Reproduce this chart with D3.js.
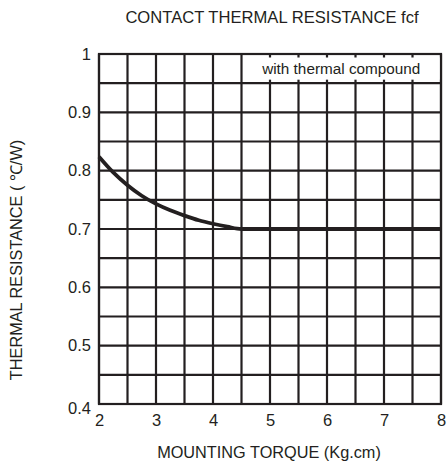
<!DOCTYPE html>
<html><head><meta charset="utf-8">
<script src="https://cdn.jsdelivr.net/npm/d3@7"></script>
<style>body{margin:0;background:#fff}text{font-family:"Liberation Sans",Arial,sans-serif;fill:#231f20}</style>
</head><body><svg id="c" width="447" height="462"></svg>
<script>
const xTicks = [2,3,4,5,6,7,8];
const yTicks = [0.4,0.5,0.6,0.7,0.8,0.9,1];
const torque = [2, 2.25, 2.5, 2.75, 3, 3.25, 3.5, 3.75, 4, 4.25, 4.5, 8];
const resistance = [0.824, 0.797, 0.775, 0.757, 0.743, 0.732, 0.723, 0.715, 0.709, 0.704, 0.7, 0.7];
const title = "CONTACT THERMAL RESISTANCE fcf";
const xTitle = "MOUNTING TORQUE (Kg.cm)";
const yTitle = "THERMAL RESISTANCE ( \u2103/W)";
const legendText = "with thermal compound";

const svg = d3.select("#c");
const ink = "#231f20";
const x = d3.scaleLinear().domain([2,8]).range([99,441]);
const y = d3.scaleLinear().domain([0.4,1]).range([404,54]);

const xg = d3.range(2,8.001,0.5), yg = d3.range(0.4,1.001,0.05);
const g = svg.append("g");
g.selectAll("line.v").data(xg).join("line").attr("x1",d=>x(d)).attr("x2",d=>x(d)).attr("y1",y(1)).attr("y2",y(0.4)).attr("stroke",ink).attr("stroke-width",2.2);
g.selectAll("line.h").data(yg).join("line").attr("y1",d=>y(d)).attr("y2",d=>y(d)).attr("x1",x(2)).attr("x2",x(8)).attr("stroke",ink).attr("stroke-width",2.2);
g.append("rect").attr("x",x(2)).attr("y",y(1)).attr("width",x(8)-x(2)).attr("height",y(0.4)-y(1)).attr("fill","none").attr("stroke",ink).attr("stroke-width",2.2);

// legend box
svg.append("rect").attr("x",x(4.5)+1.5).attr("y",y(1)+3.5).attr("width",x(8)-x(4.5)-3).attr("height",y(0.95)-y(1)-7).attr("fill","#fff");
svg.append("text").attr("x",(x(4.5)+x(8))/2).attr("y",(y(1)+y(0.95))/2+5).attr("text-anchor","middle").attr("font-size",15.3).text(legendText);

// curve
svg.append("path").datum(d3.zip(torque,resistance)).attr("d",d3.line().x(d=>x(d[0])).y(d=>y(d[1])).curve(d3.curveMonotoneX))
  .attr("fill","none").attr("stroke",ink).attr("stroke-width",3.8);

// axes
const xa = svg.append("g").attr("transform",`translate(0,${y(0.4)})`).call(d3.axisBottom(x).tickValues(xTicks).tickSize(0).tickPadding(10).tickFormat(d3.format("d")));
const ya = svg.append("g").attr("transform",`translate(${x(2)},0)`).call(d3.axisLeft(y).tickValues(yTicks).tickSize(0).tickPadding(8).tickFormat(d=>d===1?"1":d3.format(".1f")(d)));
[xa,ya].forEach(a=>{a.select(".domain").remove();a.attr("font-size",16.5).attr("font-family","Liberation Sans, Arial, sans-serif");a.selectAll("text").attr("fill",ink);});
ya.selectAll(".tick").filter(d=>d===0.4).select("text").attr("dy","0.6em");

svg.append("text").attr("x",272).attr("y",23).attr("text-anchor","middle").attr("font-size",16.6).text(title);
svg.append("text").attr("x",269).attr("y",458).attr("text-anchor","middle").attr("font-size",16.3).text(xTitle);
svg.append("text").attr("transform","translate(22,260) rotate(-90)").attr("text-anchor","middle").attr("font-size",16.3).text(yTitle);
</script></body></html>
